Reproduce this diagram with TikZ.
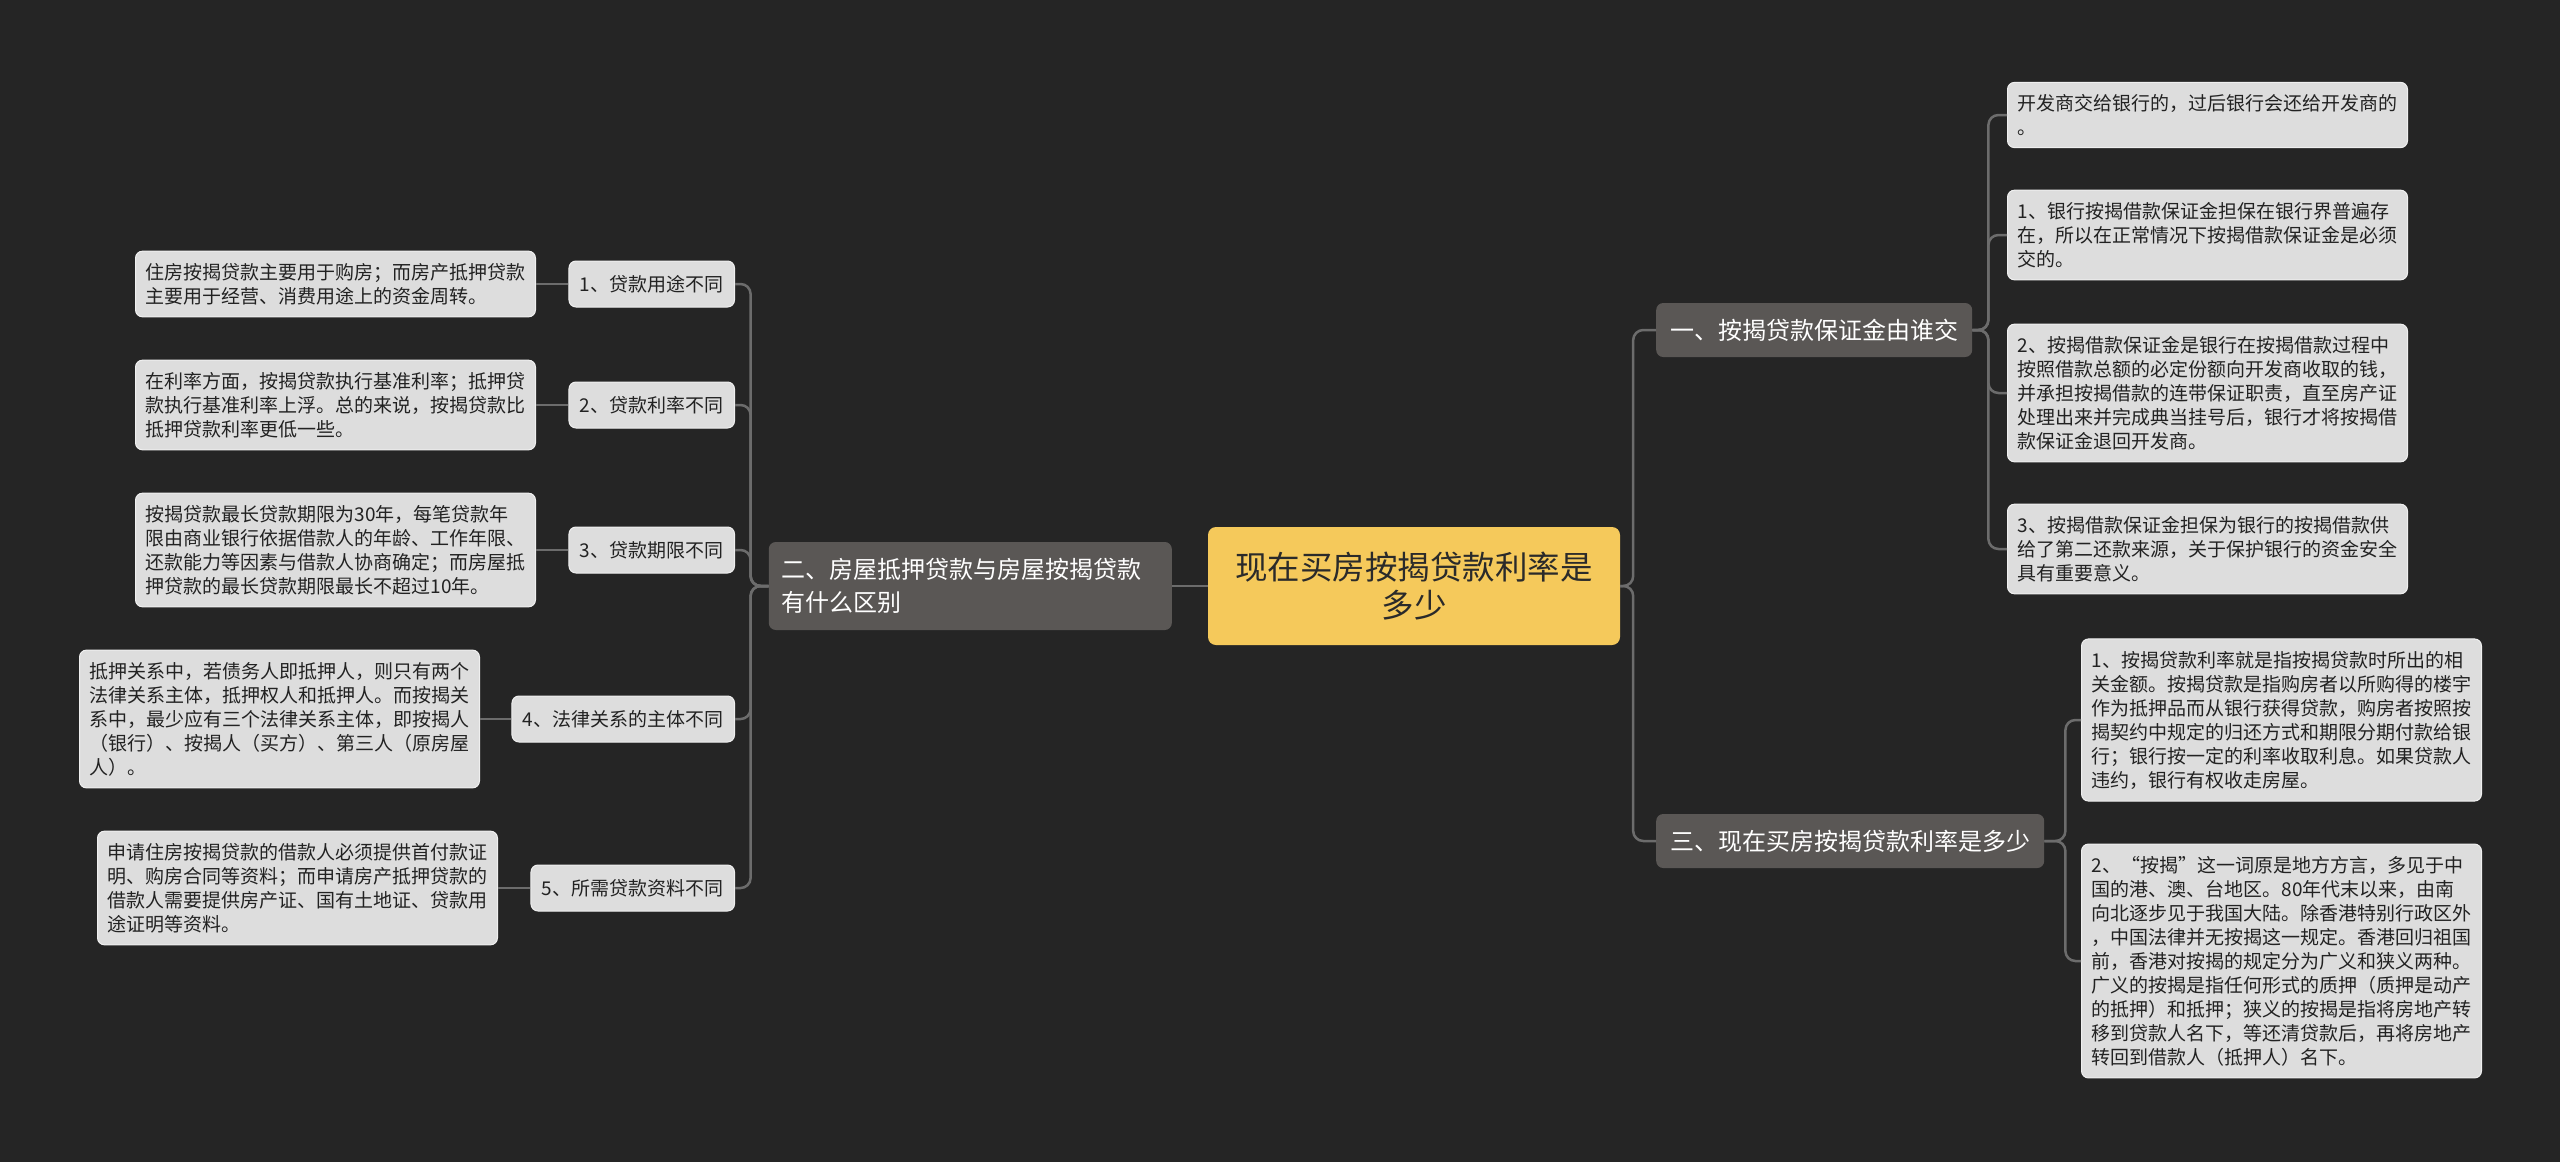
\documentclass[tikz,border=0pt]{standalone}
\usepackage{fontspec}
\newfontfamily\cjk{Noto Sans CJK SC}
\definecolor{bg}{HTML}{252525}
\definecolor{leaffill}{HTML}{DDDDDD}
\definecolor{leafborder}{HTML}{EFEFEF}
\definecolor{leaftext}{HTML}{222222}
\definecolor{grpfill}{HTML}{5A5755}
\definecolor{rootfill}{HTML}{F5C95B}
\definecolor{roottext}{HTML}{2A2A2A}
\definecolor{conncol}{HTML}{6C6C6C}
\begin{document}
\begin{tikzpicture}[x=1pt,y=-1pt,
  leaf/.style={draw=leafborder, line width=1pt, fill=leaffill, rounded corners=7pt,
    text=leaftext, font=\cjk\fontsize{19pt}{24pt}\selectfont, align=left,
    text width=380pt, inner xsep=10pt, inner ysep=12pt},
  lab/.style={draw=leafborder, line width=1pt, fill=leaffill, rounded corners=7pt,
    text=leaftext, font=\cjk\fontsize{19pt}{24pt}\selectfont,
    inner xsep=11pt, inner ysep=4pt, minimum height=46pt},
  grp/.style={fill=grpfill, rounded corners=7pt, text=white,
    font=\cjk\fontsize{24pt}{33pt}\selectfont, inner xsep=14pt, inner ysep=4pt,
    minimum height=54pt},
  rootbox/.style={fill=rootfill, rounded corners=8pt, text=roottext,
    font=\cjk\fontsize{32.5pt}{38pt}\selectfont, align=center, text width=362pt,
    minimum width=412pt, minimum height=118pt},
  conn/.style={draw=conncol, line width=2.5pt, rounded corners=10pt}
]
\fill[bg] (0,0) rectangle (2560,1162);
\useasboundingbox (0,0) rectangle (2560,1162);

% root
\node[rootbox] (root) at (1414,586) {现在买房按揭贷款利率是\\多少};

% level one
\node[grp, anchor=west] (g1) at (1656,330) {一、按揭贷款保证金由谁交};
\node[grp, anchor=west] (g3) at (1656,841) {三、现在买房按揭贷款利率是多少};
\node[grp, anchor=east, align=left, text width=377pt, inner xsep=13pt, inner ysep=15pt, minimum height=88pt] (g2) at (1172,586) {二、房屋抵押贷款与房屋按揭贷款\\有什么区别};

% right leaves under g1
\node[leaf, anchor=west] (r0) at (2007,115) {开发商交给银行的，过后银行会还给开发商的\\。};
\node[leaf, anchor=west] (r1) at (2007,235) {1、银行按揭借款保证金担保在银行界普遍存\\在，所以在正常情况下按揭借款保证金是必须\\交的。};
\node[leaf, anchor=west] (r2) at (2007,393) {2、按揭借款保证金是银行在按揭借款过程中\\按照借款总额的必定份额向开发商收取的钱，\\并承担按揭借款的连带保证职责，直至房产证\\处理出来并完成典当挂号后，银行才将按揭借\\款保证金退回开发商。};
\node[leaf, anchor=west] (r3) at (2007,549) {3、按揭借款保证金担保为银行的按揭借款供\\给了第二还款来源，关于保护银行的资金安全\\具有重要意义。};

% right leaves under g3
\node[leaf, anchor=west] (s1) at (2081,720) {1、按揭贷款利率就是指按揭贷款时所出的相\\关金额。按揭贷款是指购房者以所购得的楼宇\\作为抵押品而从银行获得贷款，购房者按照按\\揭契约中规定的归还方式和期限分期付款给银\\行；银行按一定的利率收取利息。如果贷款人\\违约，银行有权收走房屋。};
\node[leaf, anchor=west] (s2) at (2081,961) {2、“按揭”这一词原是地方方言，多见于中\\国的港、澳、台地区。80年代末以来，由南\\向北逐步见于我国大陆。除香港特别行政区外\\，中国法律并无按揭这一规定。香港回归祖国\\前，香港对按揭的规定分为广义和狭义两种。\\广义的按揭是指任何形式的质押（质押是动产\\的抵押）和抵押；狭义的按揭是指将房地产转\\移到贷款人名下，等还清贷款后，再将房地产\\转回到借款人（抵押人）名下。};

% left labels
\node[lab, anchor=east] (l1) at (735,284) {1、贷款用途不同};
\node[lab, anchor=east] (l2) at (735,405) {2、贷款利率不同};
\node[lab, anchor=east] (l3) at (735,550) {3、贷款期限不同};
\node[lab, anchor=east] (l4) at (735,719) {4、法律关系的主体不同};
\node[lab, anchor=east] (l5) at (735,888) {5、所需贷款资料不同};

% left leaves
\node[leaf, anchor=east] (t1) at (536,284) {住房按揭贷款主要用于购房；而房产抵押贷款\\主要用于经营、消费用途上的资金周转。};
\node[leaf, anchor=east] (t2) at (536,405) {在利率方面，按揭贷款执行基准利率；抵押贷\\款执行基准利率上浮。总的来说，按揭贷款比\\抵押贷款利率更低一些。};
\node[leaf, anchor=east] (t3) at (536,550) {按揭贷款最长贷款期限为30年，每笔贷款年\\限由商业银行依据借款人的年龄、工作年限、\\还款能力等因素与借款人协商确定；而房屋抵\\押贷款的最长贷款期限最长不超过10年。};
\node[leaf, anchor=east] (t4) at (480,719) {抵押关系中，若债务人即抵押人，则只有两个\\法律关系主体，抵押权人和抵押人。而按揭关\\系中，最少应有三个法律关系主体，即按揭人\\（银行）、按揭人（买方）、第三人（原房屋\\人）。};
\node[leaf, anchor=east] (t5) at (498,888) {申请住房按揭贷款的借款人必须提供首付款证\\明、购房合同等资料；而申请房产抵押贷款的\\借款人需要提供房产证、国有土地证、贷款用\\途证明等资料。};

% connectors
\draw[conn] (root.west) -- (g2.east);
\draw[conn] (root.east) -- ++(13,0) |- (g1.west);
\draw[conn] (root.east) -- ++(13,0) |- (g3.west);

\foreach \c in {r0,r1,r2,r3}
  \draw[conn] (g1.east) -- ++(16,0) |- (\c.west);
\foreach \c in {s1,s2}
  \draw[conn] (g3.east) -- ++(21,0) |- (\c.west);
\foreach \c in {l1,l2,l3,l4,l5}
  \draw[conn] (g2.west) -- ++(-18,0) |- (\c.east);

\draw[conn] (l1.west) -- (t1.east);
\draw[conn] (l2.west) -- (t2.east);
\draw[conn] (l3.west) -- (t3.east);
\draw[conn] (l4.west) -- (t4.east);
\draw[conn] (l5.west) -- (t5.east);
\end{tikzpicture}
\end{document}
